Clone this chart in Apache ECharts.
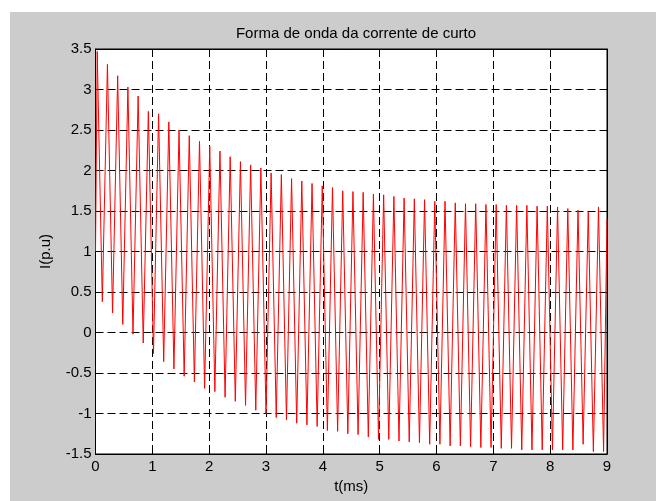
<!DOCTYPE html>
<html><head><meta charset="utf-8">
<script src="https://cdn.jsdelivr.net/npm/echarts@6/dist/echarts.min.js"></script>
<style>
html,body{margin:0;padding:0;background:#fff;}
#bg{position:absolute;left:10px;top:12px;width:646px;height:489px;background:#cccccc;}
#chart{position:absolute;left:0;top:0;width:656px;height:501px;}
</style></head><body>
<div id="bg"></div><div id="chart"></div>
<script>
const chartTitle = "Forma de onda da corrente de curto";
const xName = "t(ms)";
const yName = "I(p.u)";
const xMin = 0, xMax = 9, xStep = 1;
const yMin = -1.5, yMax = 3.5, yStep = 0.5;

// start and end of the trace
const startT = 0.0, startV = 1.0;
const endT = 9.0, endV = 1.4;

// peak times (ms) and values (p.u)
const peakT = [0.03,0.21,0.39,0.57,0.75,0.93,1.11,1.29,1.47,1.65,1.83,2.01,2.19,2.37,2.55,2.73,2.91,3.09,3.27,3.45,3.63,3.81,3.99,4.17,4.35,4.53,4.71,4.89,5.07,5.25,5.43,5.61,5.79,5.97,6.15,6.33,6.51,6.69,6.87,7.05,7.23,7.41,7.59,7.77,7.95,8.13,8.31,8.49,8.67,8.85];
const peakV = [3.47,3.31,3.17,3.03,2.92,2.73,2.70,2.60,2.50,2.43,2.36,2.30,2.24,2.17,2.11,2.07,2.03,1.97,1.95,1.90,1.87,1.84,1.81,1.79,1.75,1.74,1.73,1.71,1.70,1.68,1.66,1.65,1.64,1.62,1.62,1.60,1.59,1.59,1.58,1.58,1.57,1.57,1.57,1.56,1.56,1.55,1.53,1.51,1.49,1.55];

// trough times (ms) and values (p.u)
const troughT = [0.12,0.30,0.48,0.66,0.84,1.02,1.20,1.38,1.56,1.74,1.92,2.10,2.28,2.46,2.64,2.82,3.00,3.18,3.36,3.54,3.72,3.90,4.08,4.26,4.44,4.62,4.80,4.98,5.16,5.34,5.52,5.70,5.88,6.06,6.24,6.42,6.60,6.78,6.96,7.14,7.32,7.50,7.68,7.86,8.04,8.22,8.40,8.58,8.76,8.94];
const troughV = [0.38,0.24,0.10,-0.02,-0.13,-0.26,-0.36,-0.45,-0.54,-0.61,-0.69,-0.73,-0.80,-0.85,-0.90,-0.96,-1.00,-1.05,-1.08,-1.12,-1.14,-1.16,-1.21,-1.22,-1.25,-1.26,-1.29,-1.32,-1.32,-1.34,-1.35,-1.36,-1.38,-1.38,-1.40,-1.40,-1.41,-1.42,-1.42,-1.43,-1.43,-1.45,-1.45,-1.45,-1.45,-1.45,-1.45,-1.38,-1.47,-1.47];

const pts = [[startT, startV]];
for (let i = 0; i < peakT.length; i++) {
  pts.push([peakT[i], peakV[i]]);
  if (i < troughT.length) pts.push([troughT[i], troughV[i]]);
}
pts.push([endT, endV]);

const FONT = "'Liberation Sans', Arial, Helvetica, sans-serif";
const FS = 15;
const gridLine = {show: true, lineStyle: {color: '#000', width: 1, type: [8, 4]}};
const axisLn = {show: true, onZero: false, lineStyle: {color: '#000', width: 1}};
const tick = {show: true, inside: true, length: 5, lineStyle: {color: '#000'}};
const chart = echarts.init(document.getElementById('chart'), null, {renderer: 'canvas'});
chart.setOption({
  animation: false,
  backgroundColor: 'transparent',
  title: {
    text: chartTitle, left: 351, top: 21, textAlign: 'center',
    textStyle: {fontFamily: FONT, fontSize: FS, fontWeight: 'normal', color: '#000'}
  },
  grid: {left: 95.5, right: 49, top: 49, bottom: 47, show: true, backgroundColor: '#fff', borderColor: '#000', borderWidth: 1, containLabel: false},
  xAxis: [{
    type: 'value', min: xMin, max: xMax, interval: xStep, position: 'bottom',
    name: xName, nameLocation: 'middle', nameGap: 25,
    nameTextStyle: {fontFamily: FONT, fontSize: FS, color: '#000'},
    axisLine: axisLn, axisTick: tick,
    axisLabel: {fontFamily: FONT, fontSize: FS, color: '#000', margin: 5},
    splitLine: gridLine
  }, {
    type: 'value', min: xMin, max: xMax, interval: xStep, position: 'top',
    axisLine: axisLn, axisTick: tick,
    axisLabel: {show: false}, splitLine: {show: false}
  }],
  yAxis: [{
    type: 'value', min: yMin, max: yMax, interval: yStep, position: 'left',
    name: yName, nameLocation: 'middle', nameGap: 42,
    nameTextStyle: {fontFamily: FONT, fontSize: FS, color: '#000'},
    axisLine: axisLn, axisTick: tick,
    axisLabel: {fontFamily: FONT, fontSize: FS, color: '#000', margin: 4},
    splitLine: gridLine
  }, {
    type: 'value', min: yMin, max: yMax, interval: yStep, position: 'right',
    axisLine: axisLn, axisTick: tick,
    axisLabel: {show: false}, splitLine: {show: false}
  }],
  series: [{
    type: 'line', xAxisIndex: 0, yAxisIndex: 0, data: pts,
    showSymbol: false, symbol: 'none', clip: true,
    lineStyle: {color: '#ff0000', width: 1}
  }]
});
</script>
</body></html>
